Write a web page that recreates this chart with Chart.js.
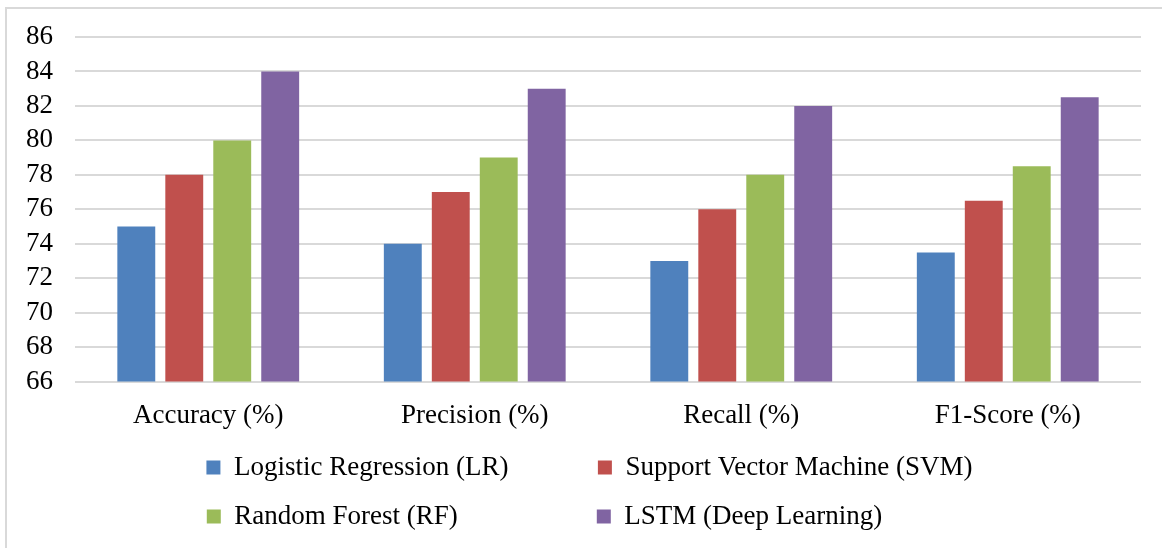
<!DOCTYPE html>
<html>
<head>
<meta charset="utf-8">
<script src="https://cdn.jsdelivr.net/npm/chart.js@4.4.1/dist/chart.umd.min.js"></script>
<style>
  html, body { margin: 0; padding: 0; background: #fff; }
  #frame {
    position: absolute; left: 5px; top: 7px;
    width: 1157px; height: 541px;
    border-left: 2px solid #d9d9d9; border-top: 2px solid #d9d9d9;
  }
  #wrap { position: absolute; left: 0; top: 0; width: 1155px; height: 539px; }
</style>
</head>
<body>
<div id="frame"><div id="wrap"><canvas id="myChart"></canvas></div></div>
<script>
// Chart data
const categories = ['Accuracy (%)', 'Precision (%)', 'Recall (%)', 'F1-Score (%)'];
const seriesNames = ['Logistic Regression (LR)', 'Support Vector Machine (SVM)', 'Random Forest (RF)', 'LSTM (Deep Learning)'];
const lrValues = [75, 74, 73, 73.5];
const svmValues = [78, 77, 76, 76.5];
const rfValues = [80, 79, 78, 78.5];
const lstmValues = [84, 83, 82, 82.5];
const yTicks = [66, 68, 70, 72, 74, 76, 78, 80, 82, 84, 86];

const colors = ['#4f81bd', '#c0504d', '#9bbb59', '#8064a2'];
const fontFamily = "'Liberation Serif', 'Times New Roman', serif";
const fontSize = 27;

const ctx = document.getElementById('myChart');

// pad legend texts (spaces, then hair spaces) so the two legend rows line up as columns
function padText(chart, text, width) {
    const c = chart.ctx;
    c.save();
    c.font = fontSize + 'px ' + fontFamily;
    while (c.measureText(text + ' ').width <= width) text += ' ';
    while (c.measureText(text).width < width) text += '\u200A';
    c.restore();
    return text;
}

// small nudge: move the legend a few px right like in the original
const legendShift = {
    id: 'legendShift',
    afterLayout(chart) {
        chart.legend.left += 6;
        chart.legend.right += 6;
    }
};

const myChart = new Chart(ctx, {
    type: 'bar',
    data: {
        labels: categories,
        datasets: [lrValues, svmValues, rfValues, lstmValues].map((vals, i) => ({
            label: seriesNames[i],
            data: vals,
            backgroundColor: colors[i],
            borderWidth: 0,
            categoryPercentage: 0.72,
            barPercentage: 0.79
        }))
    },
    plugins: [legendShift],
    options: {
        responsive: true,
        maintainAspectRatio: false,
        animation: false,
        layout: { padding: { left: 19, right: 21, top: 28, bottom: 8 } },
        plugins: {
            tooltip: { enabled: false },
            legend: {
                position: 'bottom',
                labels: {
                    boxWidth: 14,
                    boxHeight: 14,
                    padding: 22,
                    color: '#000',
                    font: { family: fontFamily, size: fontSize },
                    generateLabels(chart) {
                        const items = Chart.defaults.plugins.legend.labels.generateLabels(chart);
                        const c = chart.ctx;
                        c.save();
                        c.font = fontSize + 'px ' + fontFamily;
                        const col2 = Math.max(c.measureText(items[1].text).width, c.measureText(items[3].text).width);
                        c.restore();
                        items.forEach((it, i) => {
                            it.text = padText(chart, it.text, i % 2 === 0 ? 340 : col2);
                        });
                        return items;
                    }
                }
            }
        },
        scales: {
            x: {
                grid: { display: false },
                border: { display: false },
                ticks: {
                    color: '#000',
                    padding: 10,
                    font: { family: fontFamily, size: fontSize }
                },
                afterFit: scale => { scale.height -= scale.options.ticks.padding; }
            },
            y: {
                min: 66,
                max: 86,
                afterBuildTicks: axis => { axis.ticks = yTicks.map(v => ({ value: v })); },
                grid: { color: '#d9d9d9', lineWidth: 2, drawTicks: false },
                border: { display: false },
                ticks: {
                    color: '#000',
                    padding: 22,
                    autoSkip: false,
                    font: { family: fontFamily, size: fontSize }
                },
                afterFit: scale => {
                    scale.width -= scale.options.ticks.padding;
                    scale.paddingTop -= scale.options.ticks.padding;
                }
            }
        }
    }
});
</script>
</body>
</html>
